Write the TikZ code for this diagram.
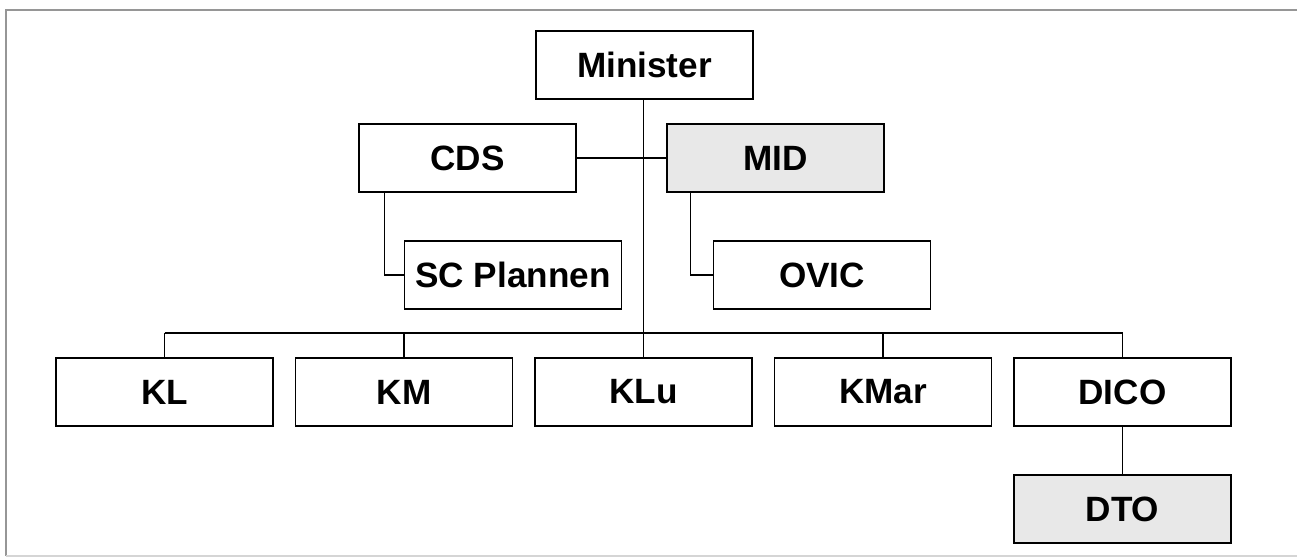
\documentclass[tikz,border=0pt]{standalone}
\usepackage{fontspec}
\setmainfont{Liberation Sans}
\usepackage{tikz}
\usetikzlibrary{positioning}
\definecolor{orgshade}{RGB}{232,232,232}
\definecolor{framegray}{RGB}{150,150,150}

\begin{document}
\begin{tikzpicture}[
  every node/.style={font=\fontsize{20}{24}\selectfont\bfseries},
  unit/.style={draw, line width=0.8pt, minimum width=4.34cm, minimum height=1.36cm, fill=white, inner sep=0pt},
  shaded/.style={unit, fill=orgshade},
  link/.style={line width=0.6pt}
]
\useasboundingbox (0,0) rectangle (25.94,-11.16);
% frame
\draw[framegray, line width=0.9pt] (0.12,-11.12) -- (0.12,-0.2) -- (25.94,-0.2);
\draw[framegray!40, line width=0.6pt] (0.12,-11.12) -- (25.94,-11.12);
% top
\node[unit]   (minister) at (12.89,-1.30)  {Minister};
\node[unit]   (cds)      at (9.35,-3.16)   {CDS};
\node[shaded] (mid)      at (15.51,-3.16)  {MID};
\node[unit]   (scp)      at (10.26,-5.50)  {SC Plannen};
\node[unit]   (ovic)     at (16.44,-5.50)  {OVIC};
% bottom row
\node[unit]   (kl)   at (3.29,-7.84)  {KL};
\node[unit]   (km)   at (8.08,-7.84)  {KM};
\node[unit]   (klu)  at (12.87,-7.84) {KLu};
\node[unit]   (kmar) at (17.66,-7.84) {KMar};
\node[unit]   (dico) at (22.45,-7.84) {DICO};
\node[shaded] (dto)  at (22.45,-10.18){DTO};
\coordinate (bus) at (0,-6.66);
% connectors
\draw[link] (minister.south -| klu.north) -- (klu.north);
\draw[link] (cds) -- (mid);
\draw[link] ([xshift=0.52cm]cds.south west) |- (scp.west);
\draw[link] ([xshift=0.48cm]mid.south west) |- (ovic.west);
\draw[link] (kl.north |- bus) -- (dico.north |- bus);
\foreach \n in {kl,km,kmar,dico}
  \draw[link] (\n.north) -- (\n.north |- bus);
\draw[link] (dico) -- (dto);
\end{tikzpicture}
\end{document}
